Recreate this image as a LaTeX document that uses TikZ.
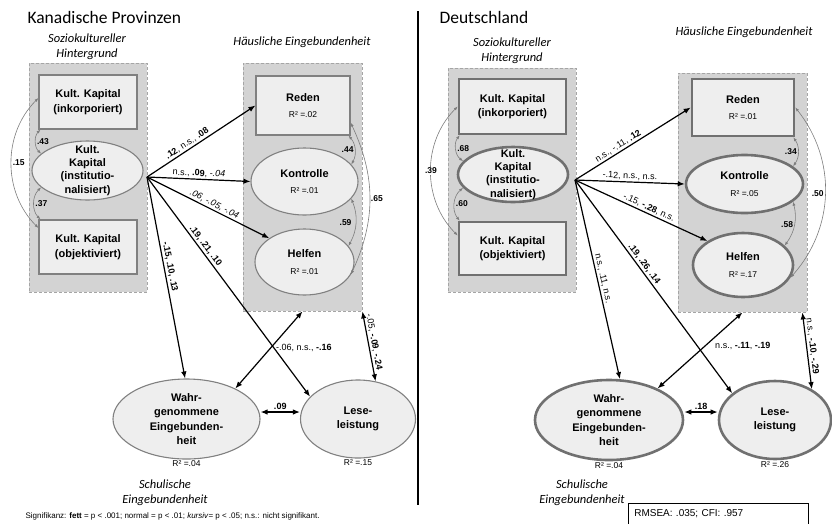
\documentclass[tikz,border=0pt]{standalone}
\usepackage{fontspec}
\setmainfont{Liberation Sans}
\newfontfamily\calfont{Carlito}
\usepackage{tikz}
\usetikzlibrary{arrows.meta,positioning,calc,shapes.geometric}
\definecolor{GrpFill}{RGB}{211,211,211}
\definecolor{GrpLine}{RGB}{165,165,165}
\definecolor{VarFill}{RGB}{238,238,238}
\definecolor{VarLine}{RGB}{128,128,128}
\definecolor{VarLineDark}{RGB}{112,112,112}
\definecolor{CorLine}{RGB}{125,125,125}
\newcommand{\rsqfont}{\fontsize{8.5}{10}\selectfont\mdseries}

\begin{document}
\begin{tikzpicture}[x=1pt,y=-1pt,>=Latex,every node/.style={font=\fontsize{9}{11}\selectfont}]
\tikzset{grp/.style={draw=GrpLine,fill=GrpFill,dash pattern=on 3pt off 2pt,line width=0.8pt},
var/.style={fill=VarFill,font=\fontsize{11}{14.5}\selectfont\bfseries,align=center},
boxvar/.style={var,rectangle,inner sep=0pt},
ellvar/.style={var,ellipse,inner sep=-9pt},
tight/.style={font=\fontsize{11}{13.2}\selectfont\bfseries},
lineL/.style={draw=VarLine,line width=1.1pt},
lineR/.style={draw=VarLineDark,line width=2.6pt},
eff/.style={-{Latex[length=7pt,width=5.5pt]},line width=1.2pt},
effboth/.style={{Latex[length=7pt,width=5.5pt]}-{Latex[length=7pt,width=5.5pt]},line width=1.2pt},
cor/.style={{Latex[length=4pt,width=3pt]}-{Latex[length=4pt,width=3pt]},draw=CorLine,line width=0.6pt},
coef/.style={font=\fontsize{9}{11}\selectfont,inner sep=1.5pt},
corcoef/.style={font=\fontsize{8.5}{10}\selectfont\bfseries,inner sep=1pt},
rsq/.style={font=\rsqfont,inner sep=1pt},
grptitle/.style={font=\calfont\itshape\fontsize{12.5}{15}\selectfont,align=center},
paneltitle/.style={font=\calfont\fontsize{17.5}{20}\selectfont,anchor=west}}

\useasboundingbox (0,0) rectangle (832,523);

\node[paneltitle] (titleL) at (24,17) {Kanadische Provinzen};
\node[paneltitle] (titleR) at (436,17) {Deutschland};
\node[grptitle] (socLtitle) at (87,47) {Soziokultureller\\Hintergrund};
\node[grptitle] (homeLtitle) at (302,42) {Häusliche Eingebundenheit};
\node[grptitle] (socRtitle) at (512,51) {Soziokultureller\\Hintergrund};
\node[grptitle] (homeRtitle) at (744,32) {Häusliche Eingebundenheit};
\node[grptitle] (schoolL) at (165,493) {Schulische\\Eingebundenheit};
\node[grptitle] (schoolR) at (582,493) {Schulische\\Eingebundenheit};

\draw[line width=1.6pt] (418,11) -- (418,505);

\node[grp,minimum width=118pt,minimum height=229pt] (socL) at (88,177.5) {};
\node[grp,minimum width=119pt,minimum height=248pt] (homeL) at (302.5,187) {};
\node[boxvar,lineL,minimum width=98pt,minimum height=54pt] (inkL) at (88,102) {Kult. Kapital\\(inkorporiert)};
\node[ellvar,lineL,tight,minimum width=111pt,minimum height=59pt] (instL) at (87.5,170.5) {Kult.\\Kapital\\(institutio-\\nalisiert)};
\node[boxvar,lineL,minimum width=98pt,minimum height=54pt] (objL) at (88,247) {Kult. Kapital\\(objektiviert)};
\node[boxvar,lineL,minimum width=94pt,minimum height=59pt] (redenL) at (303,105.5) {Reden\\[2pt]{\rsqfont R² =.02}};
\node[ellvar,lineL,minimum width=107pt,minimum height=67pt] (kontrL) at (304.5,181.5) {Kontrolle\\[2pt]{\rsqfont R² =.01}};
\node[ellvar,lineL,minimum width=99pt,minimum height=66pt] (helfL) at (304.5,262) {Helfen\\[2pt]{\rsqfont R² =.01}};
\node[ellvar,lineL,minimum width=147pt,minimum height=80pt,label={[rsq]below:R² =.04}] (wahrL) at (186.5,419) {Wahr-\\genommene\\Eingebunden-\\heit};
\node[ellvar,lineL,minimum width=115pt,minimum height=78pt,label={[rsq]below:R² =.15}] (leseL) at (358,419) {Lese-\\leistung};

\node[grp,minimum width=128pt,minimum height=224pt] (socR) at (512,180) {};
\node[grp,minimum width=129pt,minimum height=239pt] (homeR) at (742.5,192.5) {};
\node[boxvar,lineR,minimum width=107pt,minimum height=55pt] (inkR) at (512.5,106.5) {Kult. Kapital\\(inkorporiert)};
\node[ellvar,lineR,tight,minimum width=110pt,minimum height=55pt] (instR) at (513,174.5) {Kult.\\Kapital\\(institutio-\\nalisiert)};
\node[boxvar,lineR,minimum width=107pt,minimum height=53pt] (objR) at (512.5,248.5) {Kult. Kapital\\(objektiviert)};
\node[boxvar,lineR,minimum width=102pt,minimum height=57pt] (redenR) at (743,107.5) {Reden\\[2pt]{\rsqfont R² =.01}};
\node[ellvar,lineR,minimum width=117pt,minimum height=58pt] (kontrR) at (744.5,184) {Kontrolle\\[2pt]{\rsqfont R² =.05}};
\node[ellvar,lineR,minimum width=100pt,minimum height=64pt] (helfR) at (743,265) {Helfen\\[2pt]{\rsqfont R² =.17}};
\node[ellvar,lineR,minimum width=148pt,minimum height=80pt,label={[rsq]below:R² =.04}] (wahrR) at (609,420) {Wahr-\\genommene\\Eingebunden-\\heit};
\node[ellvar,lineR,minimum width=112pt,minimum height=78pt,label={[rsq]below:R² =.26}] (leseR) at (775,420) {Lese-\\leistung};

\coordinate (srcL) at (147,177);
\draw[eff] (srcL) -- node[coef,sloped,above,pos=.4] {\textbf{.12}, n.s., \textbf{.08}} (redenL.west);
\draw[eff] (srcL) -- node[coef,sloped,above,pos=.5] {n.s., \textbf{.09}, \textit{-.04}} (kontrL.west);
\draw[eff] (srcL) -- node[coef,sloped,above,pos=.53] {\textit{.06, -.05, -.04}} (helfL.146);
\draw[eff] (srcL) -- node[coef,sloped,above,pos=.45] {\textbf{-.15, .10, .13}} (wahrL.92);
\draw[eff] (srcL) -- node[coef,sloped,above,pos=.33] {\textbf{.19, .21, .10}} (leseL.155);
\draw[effboth] (homeL.south) -- node[coef,right=3pt,pos=.47] {-.06, n.s., \textbf{-.16}} (wahrL.32);
\draw[effboth] (homeL.south east) -- node[coef,sloped,above,pos=.45] {-.05, \textbf{-.09}, \textbf{-.24}} (leseL.65);
\draw[effboth] ([yshift=7pt]wahrL.east) -- node[coef,above] {\textbf{.09}} ([yshift=7pt]leseL.west);

\draw[cor] ([yshift=4pt]inkL.west) to[bend right=45] node[corcoef,right] {.15} ([yshift=19pt]objL.west);
\draw[cor] ([xshift=2pt]inkL.south west) to[bend right=45] node[corcoef,right] {.43} (instL.160);
\draw[cor] (instL.200) to[bend right=45] node[corcoef,right] {.37} ([xshift=2pt]objL.north west);
\draw[cor] ([xshift=-2pt]redenL.south east) to[bend left=35] node[corcoef,left] {.44} (kontrL.20);
\draw[cor] (kontrL.340) to[bend left=25] node[corcoef,left=3pt] {.59} (helfL.20);
\draw[cor] ([yshift=-17pt]redenL.east) to[bend left=25] node[corcoef,right] {.65} (helfL.345);

\coordinate (srcR) at (575,180);
\draw[eff] (srcR) -- node[coef,sloped,above,pos=.4] {n.s., -.11, \textbf{.12}} (redenR.west);
\draw[eff] (srcR) -- node[coef,sloped,above,pos=.5] {-.12, n.s., n.s.} (kontrR.west);
\draw[eff] (srcR) -- node[coef,sloped,above,pos=.54] {-.15, \textbf{-.28}, n.s.} (helfR.146);
\draw[eff] (srcR) -- node[coef,sloped,above,pos=.5] {n.s., .11, n.s.} (wahrR.75);
\draw[eff] (srcR) -- node[coef,sloped,above,pos=.41] {\textbf{.19, .26, .14}} (leseR.148);
\draw[effboth] (homeR.south) -- node[coef,right=8pt,pos=.44] {n.s., \textbf{-.11}, \textbf{-.19}} (wahrR.33);
\draw[effboth] ([xshift=-5pt]homeR.south east) -- node[coef,sloped,above,pos=.45] {n.s., \textbf{-.10}, \textbf{-.29}} (leseR.40);
\draw[effboth] ([yshift=8pt]wahrR.east) -- node[coef,above] {\textbf{.18}} ([yshift=8pt]leseR.west);

\draw[cor] (inkR.west) to[bend right=45] node[corcoef,fill=white] {.39} ([yshift=13pt]objR.west);
\draw[cor] ([xshift=2pt]inkR.south west) to[bend right=45] node[corcoef,right] {.68} (instR.165);
\draw[cor] (instR.195) to[bend right=45] node[corcoef,right] {.60} ([xshift=2pt]objR.north west);
\draw[cor] ([xshift=-2pt]redenR.south east) to[bend left=35] node[corcoef,left] {.34} (kontrR.20);
\draw[cor] (kontrR.340) to[bend left=25] node[corcoef,left] {.58} (helfR.25);
\draw[cor] (redenR.east) to[bend left=40] node[corcoef,left] {.50} (helfR.345);

\node[anchor=west,font=\fontsize{8}{10}\selectfont] (sig) at (22,516) {Signifikanz: \textbf{fett} = p < .001; normal = p < .01; \textit{kursiv}= p < .05; n.s.: nicht signifikant.};
\node[draw,line width=0.6pt,anchor=north west,minimum width=180pt,minimum height=21pt,text width=168pt,align=left,font=\fontsize{10}{12}\selectfont] (fit) at (628,503) {RMSEA: .035; CFI: .957};
\end{tikzpicture}
\end{document}
